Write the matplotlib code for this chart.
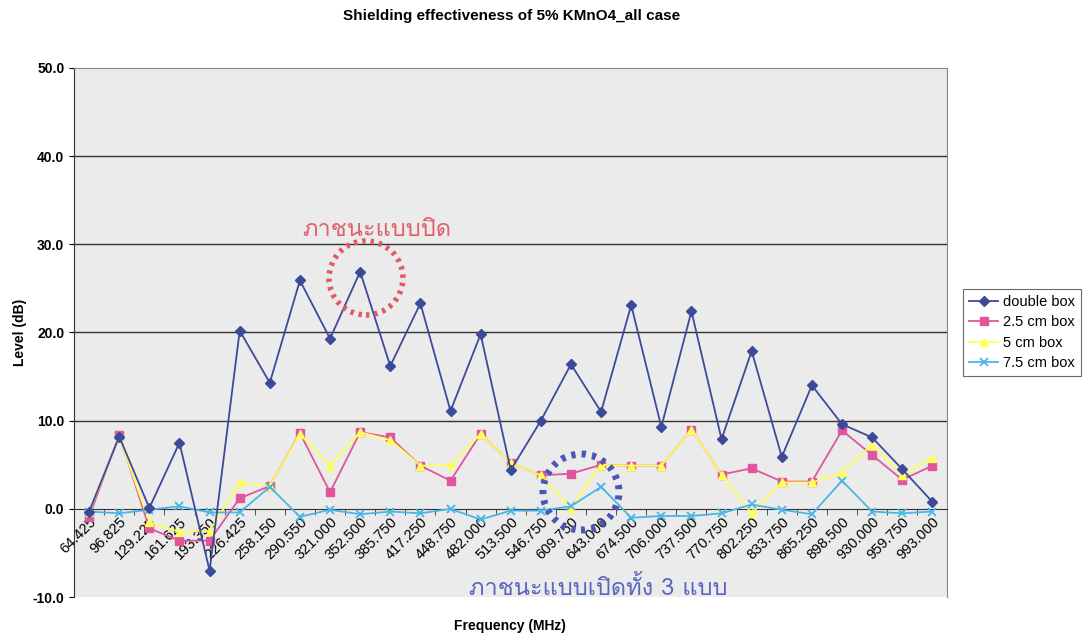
import numpy as np
import matplotlib.pyplot as plt
from matplotlib import font_manager
from matplotlib.ft2font import FT2Font
from matplotlib.patches import Ellipse

# data
freq = ["64.425", "96.825", "129.225", "161.625", "193.350", "226.425", "258.150",
        "290.550", "321.000", "352.500", "385.750", "417.250", "448.750", "482.000",
        "513.500", "546.750", "609.750", "643.000", "674.500", "706.000", "737.500",
        "770.750", "802.250", "833.750", "865.250", "898.500", "930.000", "959.750",
        "993.000"]
double_box = [-0.3, 8.2, 0.1, 7.5, -7.0, 20.2, 14.3, 25.9, 19.3, 26.9, 16.2, 23.3,
              11.1, 19.8, 4.4, 10.0, 16.4, 11.0, 23.1, 9.3, 22.4, 7.9, 17.9, 5.9,
              14.0, 9.6, 8.1, 4.5, 0.8]
box_25 = [-0.9, 8.4, -2.2, -3.6, -3.6, 1.2, 2.6, 8.6, 1.9, 8.7, 8.1, 4.9, 3.2, 8.5,
          5.2, 3.8, 4.0, 5.0, 4.9, 4.9, 9.0, 3.9, 4.6, 3.1, 3.1, 8.9, 6.1, 3.3, 4.9]
box_5 = [-0.4, 8.2, -1.5, -2.6, -2.5, 3.0, 2.6, 8.5, 4.9, 8.7, 7.8, 4.9, 5.0, 8.5,
         5.2, 3.8, 0.1, 5.0, 4.9, 4.9, 9.0, 3.9, -0.5, 3.0, 3.0, 4.1, 7.3, 3.9, 5.8]
box_75 = [-0.3, -0.5, -0.1, 0.3, -0.4, -0.4, 2.5, -0.9, -0.1, -0.6, -0.3, -0.5, 0.0,
          -1.2, -0.2, -0.2, 0.3, 2.5, -1.0, -0.8, -0.8, -0.5, 0.5, -0.1, -0.6, 3.2,
          -0.3, -0.5, -0.3]
series = ["double box", "2.5 cm box", "5 cm box", "7.5 cm box"]

# find a font that has Thai glyphs
thai_font = "DejaVu Sans"
for f in font_manager.fontManager.ttflist:
    try:
        if 0x0E20 in FT2Font(f.fname).get_charmap():
            thai_font = f.name
            break
    except Exception:
        pass

plt.rcParams['font.family'] = ['Liberation Sans', 'DejaVu Sans']

fig = plt.figure(figsize=(10.89, 6.4), dpi=100)
ax = fig.add_axes([0.068, 0.067, 0.802, 0.827])
ax.set_facecolor("#ebebeb")

#plot
x = np.arange(len(freq))
ax.plot(x, double_box, color="#3c4a9a", marker="D", markersize=5, lw=1.3, label=series[0], zorder=5)
ax.plot(x, box_25, color="#e0559c", marker="s", markersize=6, lw=1.3, label=series[1], zorder=4)
ax.plot(x, box_5, color="#ffff5a", marker="^", markersize=6, lw=1.3, label=series[2], zorder=4)
ax.plot(x, box_75, color="#4bb6e6", marker="x", markersize=6, mew=1.3, lw=1.3, label=series[3], zorder=4)

ax.set_xlim(-0.5, len(freq) - 0.5)
ax.set_ylim(-10, 50)
yt = np.arange(-10, 51, 10)
ax.set_yticks(yt)
ax.set_yticklabels([f"{v:.1f}" for v in yt], fontsize=10, fontweight="bold")
for v in [10, 20, 30, 40]:
    ax.axhline(v, color="#333333", lw=1.0, zorder=1)

ax.spines['bottom'].set_position(('data', 0))
ax.spines['bottom'].set_color("#333333")
for s in ['top', 'right']:
    ax.spines[s].set_color("#888888")
ax.spines['left'].set_color("#333333")
ax.set_xticks(x)
ax.set_xticklabels(freq, rotation=45, ha="right", va="top", rotation_mode="anchor", fontsize=10.5)
ax.tick_params(axis='x', length=0, pad=4)
ax.set_xticks(np.arange(-0.5, len(freq), 1), minor=True)
ax.tick_params(axis='x', which='minor', length=4, direction='out', color="#333333")

ax.set_ylabel("Level (dB)", fontsize=10, fontweight="bold")
fig.text(0.468, 0.022, "Frequency (MHz)", ha="center", va="center", fontsize=10, fontweight="bold")
fig.text(0.47, 0.975, "Shielding effectiveness of 5% KMnO4_all case", ha="center", va="center",
         fontsize=11, fontweight="bold")

# hand drawn notes
trans = fig.transFigure
fig.patches.append(Ellipse((366 / 1089, 1 - 278 / 640), 74 / 1089, 74 / 640, transform=trans, fill=False,
                           ec="#e05a66", lw=4, ls=(0, (0.6, 0.9))))
fig.patches.append(Ellipse((581 / 1089, 1 - 492 / 640), 76 / 1089, 76 / 640, transform=trans, fill=False,
                           ec="#4a55b8", lw=5, ls=(0, (0.6, 0.9))))
fig.text(377 / 1089, 1 - 230 / 640, "ภาชนะแบบปิด", ha="center", va="center", fontsize=17,
         color="#e0606a", family=[thai_font, 'DejaVu Sans'])
fig.text(598 / 1089, 1 - 588 / 640, "ภาชนะแบบเปิดทั้ง 3 แบบ", ha="center", va="center", fontsize=17,
         color="#5a66c0", family=[thai_font, 'DejaVu Sans'])

leg = ax.legend(loc="center left", bbox_to_anchor=(1.01, 0.5), fontsize=10.5, frameon=True,
                fancybox=False, edgecolor="#444444", handlelength=2.0, borderpad=0.4,
                labelspacing=0.45, handletextpad=0.3)
leg.get_frame().set_linewidth(0.8)

fig.savefig("out.png", dpi=100)
